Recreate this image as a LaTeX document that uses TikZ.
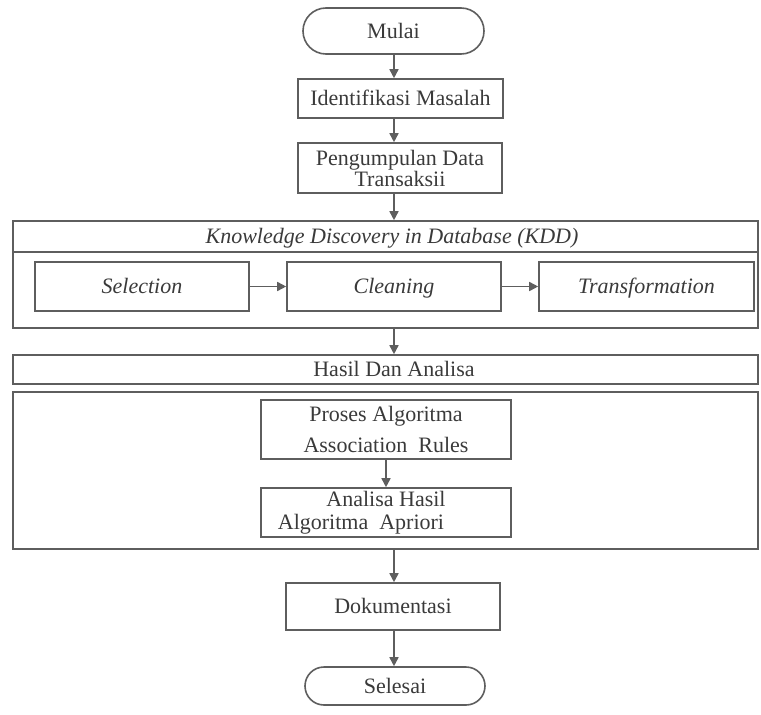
\documentclass[tikz,border=0pt]{standalone}
\usepackage{fontspec}
\setmainfont{Liberation Serif}
\usetikzlibrary{arrows.meta}
\definecolor{linegray}{HTML}{5E5E5E}
\definecolor{textgray}{HTML}{3A3A3A}
\begin{document}
\begin{tikzpicture}[x=1pt,y=-1pt,
  box/.style={draw=linegray, line width=1.6pt, rectangle, inner sep=0pt, text=textgray, font=\fontsize{22}{21}\selectfont, align=center},
  one/.style={text height=19pt, text depth=5pt},
  term/.style={box, one, rounded corners=19pt},
  lbl/.style={inner sep=0pt, one, text=textgray, font=\fontsize{22}{26}\selectfont},
  ilbl/.style={lbl, font=\fontsize{22}{26}\selectfont\itshape},
  kbox/.style={box, one, minimum height=49pt, font=\fontsize{22}{26}\selectfont\itshape},
  arr/.style={draw=linegray, line width=1.6pt, -{Triangle[length=9pt,width=9pt]}}]
\useasboundingbox (0,0) rectangle (761,715);
\coordinate (axis) at (394,0);

\node[term, rounded corners=23pt, minimum width=181pt, minimum height=46pt] (mulai) at (393.5,31) {Mulai};
\node[box, one, minimum width=205pt, minimum height=39pt] (ident) at (400.5,98.5) {Identifikasi Masalah};
\node[box, minimum width=204pt, minimum height=50pt] (kumpul) at (400,168) {Pengumpulan Data\\Transaksii};

% KDD frame
\node[box, minimum width=745pt, minimum height=107pt] (kdd) at (385.5,274.5) {};
\coordinate (kddsep) at (385.5,252);
\draw[draw=linegray, line width=1.6pt] (kddsep -| kdd.west) -- (kddsep -| kdd.east);
\node[ilbl] (kddtitle) at (392,236) {Knowledge Discovery in Database (KDD)};

\node[kbox, minimum width=214pt] (sel) at (142,286.5) {Selection};
\node[kbox, minimum width=214pt] (clean) at (394,286.5) {Cleaning};
\node[kbox, minimum width=215pt] (trans) at (646.5,286.5) {Transformation};

\node[box, minimum width=745pt, minimum height=29pt] (hasil) at (385.5,369.5) {};
\node[lbl] (hasiltxt) at (394,369.5) {Hasil Dan Analisa};

\node[box, minimum width=745pt, minimum height=157pt] (big) at (385.5,470.5) {};
\node[box, minimum width=250pt, minimum height=59pt, font=\fontsize{22}{31}\selectfont] (proses) at (386,429.5) {Proses Algoritma\\Association~~Rules};
\node[box, minimum width=250pt, minimum height=49pt, font=\fontsize{22}{23}\selectfont] (analisa) at (386,512.5) {Analisa Hasil\\\hspace*{-50pt}Algoritma~~Apriori};

\node[box, one, minimum width=214pt, minimum height=47pt] (dok) at (393,606.5) {Dokumentasi};
\node[term, minimum width=180pt, minimum height=38pt] (selesai) at (395,686) {Selesai};

% connectors
\draw[arr] (mulai.south -| axis) -- (ident.north -| axis);
\draw[arr] (ident.south -| axis) -- (kumpul.north -| axis);
\draw[arr] (kumpul.south -| axis) -- (kdd.north -| axis);
\draw[arr] (sel.east) -- (clean.west);
\draw[arr] (clean.east) -- (trans.west);
\draw[arr] (kdd.south -| axis) -- (hasil.north -| axis);
\draw[arr] (proses.south) -- (analisa.north);
\draw[arr] (big.south -| axis) -- (dok.north -| axis);
\draw[arr] (dok.south -| axis) -- (selesai.north -| axis);
\end{tikzpicture}
\end{document}
